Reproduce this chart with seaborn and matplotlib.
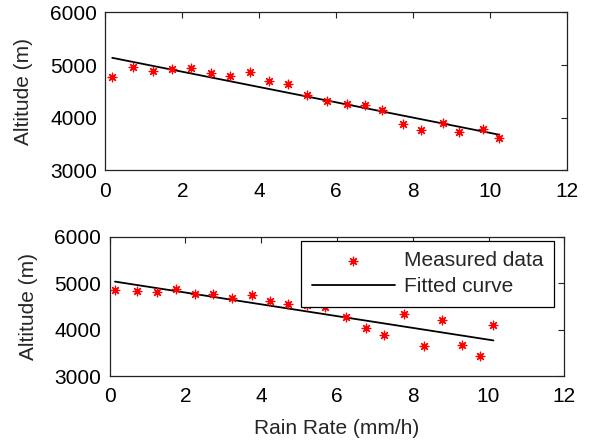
import numpy as np
import pandas as pd
import matplotlib
matplotlib.use("Agg")
import matplotlib.pyplot as plt
import seaborn as sns

# Dados
rain_top = [0.18, 0.73, 1.23, 1.74, 2.22, 2.74, 3.23, 3.75, 4.25, 4.74, 5.25,
            5.75, 6.27, 6.76, 7.18, 7.75, 8.21, 8.79, 9.20, 9.82, 10.23]
alt_top = [4766, 4956, 4892, 4918, 4949, 4853, 4796, 4867, 4708, 4638, 4435,
           4314, 4263, 4244, 4149, 3889, 3768, 3908, 3724, 3794, 3622]
fit_top_x = [0.18, 10.23]
fit_top_y = [5139, 3680]

rain_bot = [0.14, 0.72, 1.24, 1.76, 2.25, 2.74, 3.23, 3.75, 4.24, 4.72, 5.21,
            5.68, 6.24, 6.77, 7.24, 7.76, 8.30, 8.76, 9.30, 9.78, 10.13]
alt_bot = [4850, 4829, 4815, 4866, 4757, 4772, 4685, 4735, 4612, 4540, 4530,
           4490, 4273, 4035, 3883, 4330, 3644, 4200, 3666, 3434, 4091]
fit_bot_x = [0.14, 10.13]
fit_bot_y = [5033, 3766]

xticks = [0, 2, 4, 6, 8, 10, 12]
yticks = [3000, 4000, 5000, 6000]

sns.set_style("white")
plt.rcParams['font.family'] = ['Liberation Sans', 'DejaVu Sans']
plt.rcParams['font.size'] = 15

fig = plt.figure(figsize=(5.9, 4.42), dpi=100)
ax1 = fig.add_axes([0.1785, 0.6143, 0.7825, 0.3575])
ax2 = fig.add_axes([0.1859, 0.1493, 0.7705, 0.3152])

asterisk = (8, 2, 0)

def desenhar(ax, rx, ay, fx, fy, legenda=False):
    df = pd.DataFrame({'rain': rx, 'alt': ay})
    dfit = pd.DataFrame({'rain': fx, 'alt': fy})
    sns.scatterplot(data=df, x='rain', y='alt', ax=ax, marker=asterisk,
                    color='red', s=38, linewidth=0.9, edgecolor='red',
                    label='Measured data' if legenda else None, zorder=3)
    sns.lineplot(data=dfit, x='rain', y='alt', ax=ax, color='black',
                 linewidth=1.3, label='Fitted curve' if legenda else None,
                 zorder=2)
    ax.set_xlim(0, 12)
    ax.set_ylim(3000, 6000)
    ax.set_xticks(xticks)
    ax.set_yticks(yticks)
    ax.tick_params(direction='in', length=4, top=True, right=True,
                   labelsize=15, width=0.8, colors='#222222', labelcolor='black')
    ax.tick_params(axis='x', pad=8)
    ax.tick_params(axis='y', pad=6)
    for s in ax.spines.values():
        s.set_color('#222222')
        s.set_linewidth(0.9)
    ax.set_ylabel('Altitude (m)', fontsize=15, labelpad=12)

desenhar(ax1, rain_top, alt_top, fit_top_x, fit_top_y)
ax1.set_xlabel('')
desenhar(ax2, rain_bot, alt_bot, fit_bot_x, fit_bot_y, legenda=True)
ax2.set_xlabel('Rain Rate (mm/h)', fontsize=15, labelpad=9)

leg = ax2.legend(loc='upper right', bbox_to_anchor=(0.978, 0.972), fontsize=15,
                 frameon=True, fancybox=False, edgecolor='black',
                 handlelength=4.0, handletextpad=0.45, borderpad=0.5,
                 labelspacing=0.35, borderaxespad=0)
leg.get_frame().set_linewidth(0.9)
leg.get_frame().set_alpha(1)
leg.legend_handles[0].set_sizes([38])

fig.savefig('out.png', dpi=100)
